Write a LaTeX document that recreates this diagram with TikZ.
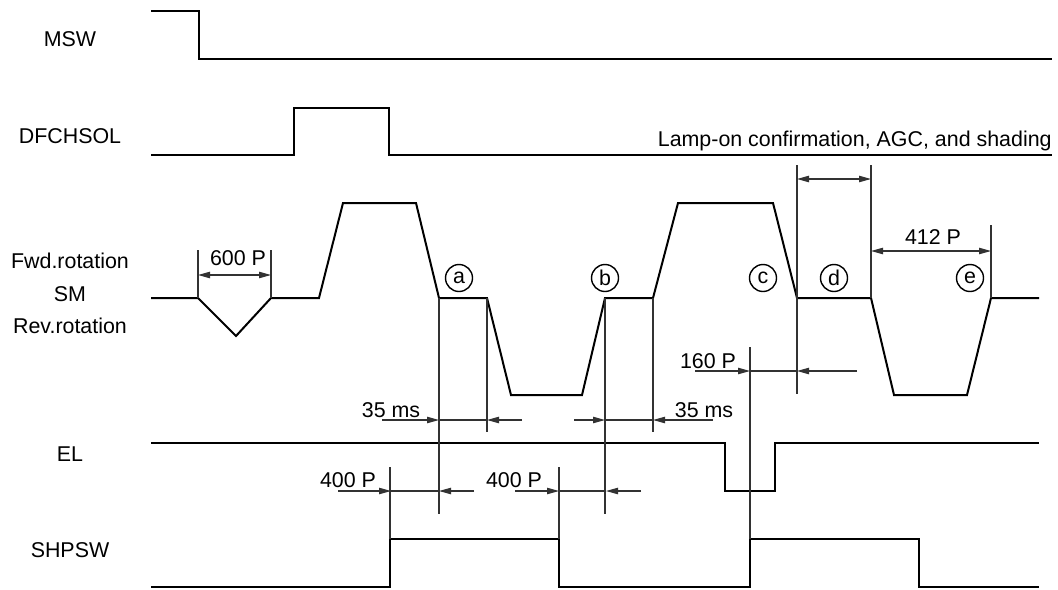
\documentclass[tikz,border=0pt]{standalone}
\usepackage{fontspec}
\setmainfont{Liberation Sans}
\usetikzlibrary{arrows.meta}
\definecolor{ink}{RGB}{0,0,0}
\definecolor{guidegray}{RGB}{50,50,50}

\begin{document}
\begin{tikzpicture}[x=.5pt,y=-.5pt,
 every node/.style={font=\fontsize{10.7}{12}\selectfont,inner sep=0pt},
 signal/.style={ink,line width=1pt,line join=miter},
 guide/.style={guidegray,line width=.55pt},
 tip/.style={guidegray,line width=.55pt,-{Triangle[length=6pt,width=3.2pt]}},
 both/.style={guidegray,line width=.55pt,
   {Triangle[length=6pt,width=3.2pt]}-{Triangle[length=6pt,width=3.2pt]}},
 phase/.style={circle,draw=ink,line width=.7pt,minimum size=13.5pt}]
\useasboundingbox (0,0) rectangle (1058,589);

% signal names
\node[anchor=base] (msw)   at (70,46)  {MSW};
\node[anchor=base] (dfch)  at (70,143) {DFCHSOL};
\node[anchor=base] (fwd)   at (70,268) {Fwd.rotation};
\node[anchor=base] (sm)    at (70,301) {SM};
\node[anchor=base] (rev)   at (70,333) {Rev.rotation};
\node[anchor=base] (el)    at (70,461) {EL};
\node[anchor=base] (shpsw) at (70,557) {SHPSW};

% waveforms
\draw[signal] (151,11)--(199,11)--(199,59)--(1052,59);
\draw[signal] (151,155)--(294,155)--(294,108)--(389,108)--(389,155)--(1052,155);
\draw[signal] (151,298)--(198,298)--(236,336)--(271,298)--(319,298)
  --(343,203)--(416,203)--(439,298)--(487,298)--(511,395)--(582,395)
  --(605,298)--(653,298)--(678,203)--(773,203)--(797,298)--(871,298)
  --(894,395)--(967,395)--(991,298)--(1039,298);
\draw[signal] (151,443)--(725,443)--(725,491)--(775,491)--(775,443)--(1039,443);
\draw[signal] (151,587)--(390,587)--(390,539)--(559,539)--(559,587)
  --(750,587)--(750,539)--(919,539)--(919,587)--(1039,587);

% extension lines
\foreach \x/\a/\b in {198/250/298,271/250/298,439/298/514,487/298/432,
  605/298/514,653/298/432,750/347/539,797/165/394,871/165/298,
  991/225/298,390/467/539,559/467/539}
  {\draw[guide] (\x,\a)--(\x,\b);}

% outside dimensions
\foreach \from/\lft/\rgt/\to/\y in {382/439/487/522/420,574/605/653/713/420,
  338/391/439/474/491,515/559/606/641/491,695/750/797/857/371}{
  \draw[guide] (\lft,\y)--(\rgt,\y);
  \draw[tip] (\from,\y)--(\lft,\y);
  \draw[tip] (\to,\y)--(\rgt,\y);}

% inside dimensions
\draw[both] (198,275)--(271,275);
\draw[both] (797,179)--(871,179);
\draw[both] (871,251)--(991,251);

% dimension texts
\node[anchor=base] (t600)  at (238,265) {600 P};
\node[anchor=base] (t412)  at (933,244) {412 P};
\node[anchor=base] (t35a)  at (391,417) {35 ms};
\node[anchor=base] (t35b)  at (704,417) {35 ms};
\node[anchor=base] (t400a) at (348,487) {400 P};
\node[anchor=base] (t400b) at (514,487) {400 P};
\node[anchor=base] (t160)  at (708,368) {160 P};
\node[anchor=base east] (lamp) at (1052,146) {Lamp-on confirmation, AGC, and shading};

% phase marks
\foreach \p/\x in {a/459,b/605,c/763,d/834,e/970}
  {\node[phase] (ph\p) at (\x,278) {\p};}
\end{tikzpicture}
\end{document}
